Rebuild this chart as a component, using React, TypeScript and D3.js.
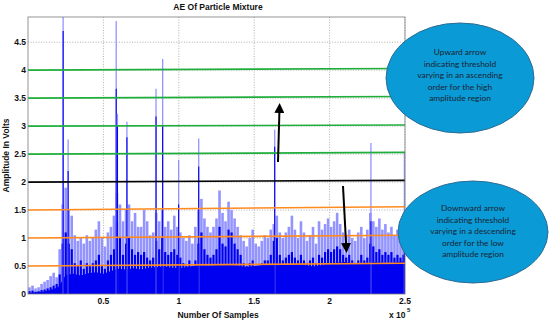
import * as d3 from "d3";

// tick values
const yTicks = [0, 0.5, 1, 1.5, 2, 2.5, 3, 3.5, 4, 4.5];
const xTicks = [50000, 100000, 150000, 200000, 250000];
const xTickLabels = ["0.5", "1", "1.5", "2", "2.5"];

// signal envelope, one value per 2000 samples
const binSize = 2000;
const bodyLight = [
  0.12, 0.15, 0.1, 0.12, 0.18, 0.22, 0.25, 0.32, 0.38, 0.3,
  0.8, 1.6, 1.9, 1.5, 1.4,
  1.05, 0.95, 1.0, 0.9, 1.05, 0.95,
  1.0, 1.15, 1.3, 1.0, 0.85, 1.1, 1.2,
  1.4, 1.8, 1.6, 1.3,
  1.5, 1.6, 1.3, 1.45, 1.2,
  1.2, 1.5, 1.3, 1.05,
  1.1, 1.45, 1.3, 1.5, 1.2,
  1.3, 1.15, 1.4, 1.2, 1.1,
  1.0, 0.95, 1.05, 0.9, 1.2,
  1.5, 1.7, 1.35, 1.2, 1.1,
  1.2, 1.35, 1.85, 1.45, 1.3,
  1.65, 1.5, 1.35, 1.2, 1.05,
  0.95, 0.85, 1.0, 1.15, 0.9, 0.85,
  0.95, 1.05, 1.0, 1.15,
  1.25, 1.4, 1.1,
  1.0, 1.1, 1.2, 1.4, 1.15, 1.0, 1.3,
  1.1, 0.95, 1.05, 1.2, 0.9,
  1.3, 1.15, 1.25, 1.35, 1.2, 1.3, 1.45,
  1.25, 1.1, 1.05, 1.15, 1.0, 0.95, 1.1, 1.2, 1.0, 1.15,
  1.45, 1.3, 1.2, 1.35, 1.15, 1.25,
  1.1, 1.2, 1.05, 1.15, 1.0, 1.1,
];
const bodyDark = [
  0.05, 0.06, 0.04, 0.05, 0.07, 0.08, 0.1, 0.12, 0.15, 0.18,
  0.35, 0.9, 1.1, 0.9, 0.8,
  0.55, 0.5, 0.6, 0.45, 0.55, 0.5,
  0.55, 0.6, 0.7, 0.5, 0.45, 0.6, 0.7,
  0.8, 1.3, 1.0, 0.7,
  0.9, 1.0, 0.8, 0.7, 0.75,
  0.7, 0.75, 0.65, 0.6,
  0.65, 0.95, 0.8, 1.0, 0.75,
  0.7, 0.75, 0.8, 0.7, 0.65,
  0.55, 0.5, 0.6, 0.5, 0.6,
  0.9, 1.1, 0.8, 0.7, 0.65,
  0.7, 0.8, 1.2, 0.9, 0.85,
  1.15, 1.1, 0.9, 0.8, 0.7,
  0.55, 0.5, 0.55, 0.6, 0.5, 0.5,
  0.55, 0.6, 0.6, 0.7,
  0.95, 1.0, 0.7,
  0.6, 0.65, 0.7, 0.75, 0.65, 0.6, 0.7,
  0.6, 0.55, 0.6, 0.65, 0.55,
  0.7, 0.65, 0.75, 0.8, 0.75, 0.8, 0.85,
  0.8, 0.7, 0.65, 0.7, 0.6, 0.55, 0.6, 0.7, 0.6, 0.65,
  0.9, 0.85, 0.75, 0.8, 0.7, 0.75,
  0.7, 0.75, 0.65, 0.7, 0.65, 0.7,
];
// solid floor, one value per 5000 samples
const floorStep = 5000;
const floorLevel = [
  0.02, 0.03, 0.04, 0.07, 0.12, 0.34, 0.36, 0.33, 0.37, 0.39,
  0.36, 0.41, 0.45, 0.44, 0.46, 0.44, 0.47, 0.48, 0.49, 0.47,
  0.46, 0.48, 0.5, 0.51, 0.5, 0.52, 0.53, 0.52, 0.5, 0.48,
  0.5, 0.52, 0.53, 0.55, 0.53, 0.52, 0.54, 0.51, 0.49, 0.52,
  0.55, 0.56, 0.57, 0.55, 0.54, 0.55, 0.57, 0.56, 0.55, 0.57, 0.58,
];
// tall narrow peaks
const spikeSample = [23300, 26600, 58500, 59300, 65600, 84900, 89300, 99900, 113200, 163600, 227400, 249600];
const spikeLight = [4.95, 2.76, 4.88, 3.22, 3.08, 3.67, 4.2, 2.4, 2.78, 2.94, 2.7, 2.54];
const spikeDark = [4.7, 2.2, 3.67, 3.0, 2.8, 3.17, 3.0, 1.6, 2.28, 2.63, 1.3, 1.2];

// threshold lines
const thrStart = [0.5, 1, 1.5, 2, 2.5, 3, 3.5, 4];
const thrEnd = [0.55, 1.05, 1.56, 2.03, 2.53, 3.02, 3.53, 4.03];
const thrColor = ["#ff8a1e", "#ff8a1e", "#ff8a1e", "#000000", "#1fae3c", "#1fae3c", "#1fae3c", "#1fae3c"];

const upperNote = ["Upward arrow", "indicating threshold", "varying in an ascending", "order for the high", "amplitude region"];
const lowerNote = ["Downward arrow", "indicating threshold", "varying in a descending", "order for the low", "amplitude region"];

const W = 550, H = 323;
const left = 28, right = 405, top = 17, bottom = 294;

export default function App() {
  const x = d3.scaleLinear().domain([0, 250000]).range([left, right]);
  const y = d3.scaleLinear().domain([0, 4.95]).range([bottom, top]);

  const floorArea = d3
    .area<number>()
    .x((_, i) => x(i * floorStep))
    .y0(y(0))
    .y1((d) => y(d))
    .curve(d3.curveLinear);

  const cy = (v: number) => y(Math.min(v, 4.95));
  const font = "'Liberation Sans', Arial, sans-serif";
  const noteFont = "Lato, 'Open Sans', sans-serif";

  return (
    <svg width={W} height={H} style={{ position: "absolute", left: 0, top: 0, background: "#fff" }}>
      {/* grid */}
      <g stroke="#9a9a9a" strokeWidth={0.8} strokeDasharray="1,1.6">
        {yTicks.slice(1).map((t) => (
          <line key={`gy${t}`} x1={left} x2={right} y1={y(t)} y2={y(t)} />
        ))}
        {xTicks.map((t) => (
          <line key={`gx${t}`} x1={x(t)} x2={x(t)} y1={top} y2={bottom} />
        ))}
      </g>

      {/* signal */}
      <g stroke="#9494ff" strokeWidth={2.6}>
        {bodyLight.map((v, i) => (
          <line key={`bl${i}`} x1={x(i * binSize + binSize / 2)} x2={x(i * binSize + binSize / 2)} y1={y(0)} y2={cy(v)} />
        ))}
      </g>
      <g stroke="#0000f0" strokeWidth={2.2}>
        {bodyDark.map((v, i) => (
          <line key={`bd${i}`} x1={x(i * binSize + binSize / 2)} x2={x(i * binSize + binSize / 2)} y1={y(0)} y2={cy(v)} />
        ))}
      </g>
      <path d={floorArea(floorLevel) || ""} fill="#0000f0" />
      {spikeSample.map((s, i) => (
        <g key={`sp${i}`}>
          <line x1={x(s)} x2={x(s)} y1={y(0)} y2={cy(spikeLight[i])} stroke="#9494ff" strokeWidth={1.3} />
          <line x1={x(s)} x2={x(s)} y1={y(0)} y2={cy(spikeDark[i])} stroke="#0000f0" strokeWidth={1.1} />
        </g>
      ))}

      {/* thresholds */}
      {thrStart.map((v, i) => (
        <line key={`th${i}`} x1={left} x2={right} y1={y(v)} y2={y(thrEnd[i])} stroke={thrColor[i]} strokeWidth={1.6} />
      ))}

      {/* axes box */}
      <rect x={left} y={top} width={right - left} height={bottom - top} fill="none" stroke="#7a7a7a" strokeWidth={0.8} />

      {/* tick labels */}
      <g fontFamily={font} fontSize={8.5} fontWeight="bold" fill="#111">
        {yTicks.map((t) => (
          <text key={`yl${t}`} x={left - 2} y={y(t) + 3} textAnchor="end">{t}</text>
        ))}
        {xTicks.map((t, i) => (
          <text key={`xl${t}`} x={x(t)} y={bottom + 10} textAnchor="middle">{xTickLabels[i]}</text>
        ))}
        <text x={389} y={318}>x 10</text>
        <text x={407} y={312} fontSize={6}>5</text>
        <text x={218} y={318} textAnchor="middle">Number Of Samples</text>
        <text x={218} y={10} textAnchor="middle">AE Of Particle Mixture</text>
        <text transform={`translate(9,${(top + bottom) / 2}) rotate(-90)`} textAnchor="middle">Amplitude In Volts</text>
      </g>

      {/* arrows */}
      <defs>
        <marker id="ahead" markerWidth={10} markerHeight={10} refX={5} refY={5} orient="auto" markerUnits="userSpaceOnUse" viewBox="0 0 10 10">
          <path d="M0,0 L10,5 L0,10 Z" fill="#000" />
        </marker>
      </defs>
      <line x1={278} y1={162} x2={279.5} y2={108} stroke="#000" strokeWidth={2} markerEnd="url(#ahead)" />
      <line x1={343} y1={186} x2={346.3} y2={248} stroke="#000" strokeWidth={2} markerEnd="url(#ahead)" />

      {/* notes */}
      <ellipse cx={460} cy={78} rx={74} ry={55} fill="#0a9ad6" stroke="#2d6c93" strokeWidth={1} />
      <ellipse cx={473} cy={232} rx={75} ry={51} fill="#0a9ad6" stroke="#2d6c93" strokeWidth={1} />
      <g fontFamily={noteFont} fontSize={8.4} fill="#1b2533" textAnchor="middle">
        {upperNote.map((t, i) => (
          <text key={`un${i}`} x={460} y={55 + i * 11.5}>{t}</text>
        ))}
        {lowerNote.map((t, i) => (
          <text key={`ln${i}`} x={473} y={211 + i * 11.5}>{t}</text>
        ))}
      </g>
    </svg>
  );
}
